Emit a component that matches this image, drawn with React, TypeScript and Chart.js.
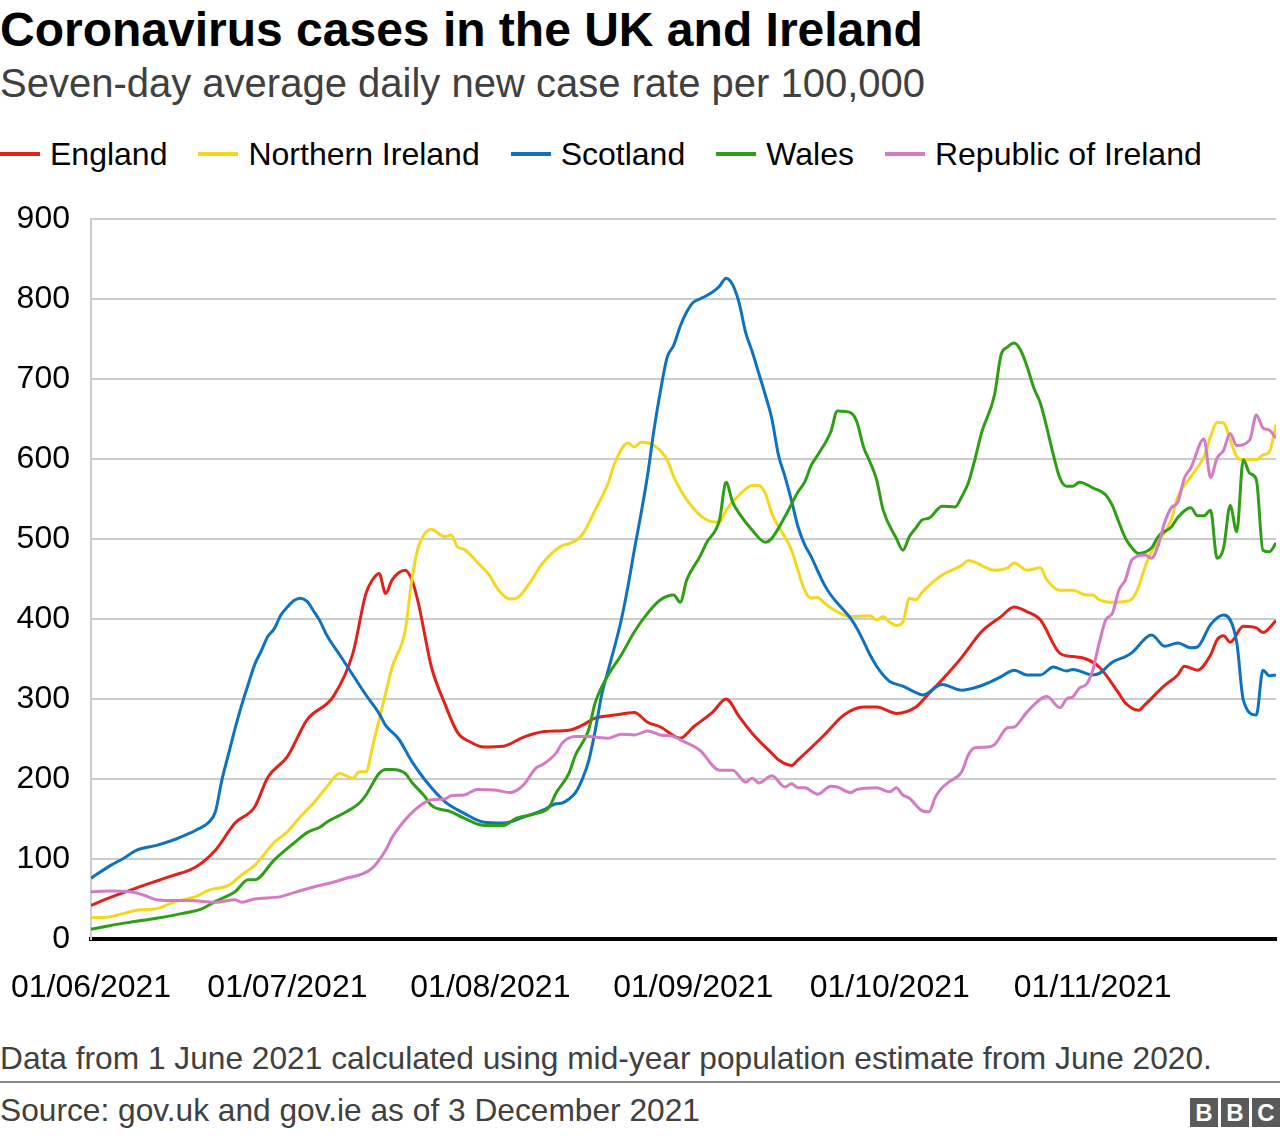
import React, { useEffect, useRef } from "react";
import { Chart, registerables } from "chart.js";

Chart.register(...registerables);

// x values are days since 1 June 2021
const tickDays = [0, 30, 61, 92, 122, 153];
const tickLabels = ["01/06/2021", "01/07/2021", "01/08/2021", "01/09/2021", "01/10/2021", "01/11/2021"];
const yMax = 900;
const yStep = 100;
const lastDay = 181;

const seriesNames = ["England", "Northern Ireland", "Scotland", "Wales", "Republic of Ireland"];
const seriesColors = ["#E3211B", "#F4D81E", "#0F72C1", "#2E9F15", "#D37BC3"];

const england: [number, number][] = [
  [0,42],[2,49],[7,64],[12,78],[16,90],[19,111],[22,145],[25,165],[27,202],[30,228],
  [33,274],[37,303],[40,357],[42,432],[43,449],[44,457],[45,432],[46,449],[48,461],[49,449],
  [50,420],[52,340],[54,295],[56,258],[58,246],[60,240],[63,241],[66,252],[69,259],[73,261],
  [75,267],[77,276],[80,280],[83,283],[85,271],[87,265],[90,251],[92,265],[95,284],[97,300],
  [99,278],[101,257],[104,232],[105,224],[107,217],[108,224],[112,255],[115,280],[118,290],[120,290],
  [123,282],[126,290],[128,307],[130,324],[133,352],[135,374],[136,384],[139,403],[141,415],[143,409],
  [145,399],[148,357],[150,353],[152,350],[154,340],[157,307],[158,295],[160,286],[161,293],[164,317],
  [166,330],[167,341],[169,336],[171,355],[172,374],[173,379],[174,371],[176,391],[178,389],[179,383],
  [181,398],
];

const northernIreland: [number, number][] = [
  [0,27],[2,27],[7,36],[10,38],[13,47],[16,53],[18,61],[21,67],[23,80],[25,92],
  [28,121],[30,134],[32,153],[34,170],[36,190],[38,207],[40,201],[41,209],[42,209],[43,240],
  [44,274],[45,307],[46,340],[48,386],[49,449],[50,490],[51,507],[52,512],[54,503],[55,505],
  [56,490],[57,487],[59,471],[61,453],[62,439],[64,425],[65,426],[67,445],[69,470],[72,492],
  [73,494],[75,505],[77,536],[79,570],[80,595],[82,620],[83,615],[84,621],[86,617],[88,599],
  [89,578],[91,549],[94,524],[96,521],[97,536],[99,555],[101,567],[102,567],[103,557],[104,532],
  [107,486],[109,436],[110,426],[111,427],[112,420],[114,409],[116,403],[119,404],[120,399],[121,403],
  [122,396],[123,392],[124,396],[125,426],[126,424],[127,434],[129,449],[130,455],[133,467],[134,473],
  [135,471],[136,467],[138,461],[140,464],[141,470],[143,461],[145,464],[146,449],[148,436],[150,436],
  [152,430],[153,430],[154,424],[156,421],[158,422],[159,425],[160,440],[161,465],[162,484],[163,496],
  [165,524],[166,553],[168,578],[170,603],[171,628],[172,646],[173,645],[174,624],[175,603],[176,599],
  [178,599],[179,605],[180,609],[181,643],
];

const scotland: [number, number][] = [
  [0,76],[3,92],[5,101],[7,111],[10,117],[13,125],[15,132],[16,136],[18,146],[19,159],
  [20,199],[21,231],[22,263],[23,292],[24,318],[25,343],[26,360],[27,378],[28,388],[29,405],
  [30,415],[31,423],[32,426],[33,422],[34,410],[35,397],[36,380],[38,355],[40,330],[42,305],
  [44,282],[45,267],[47,250],[49,222],[51,199],[54,172],[57,157],[60,146],[63,145],[66,152],
  [69,161],[71,169],[72,170],[73,175],[74,183],[75,199],[76,222],[77,260],[78,305],[79,336],
  [80,366],[81,399],[82,440],[83,487],[84,531],[85,579],[86,637],[87,686],[88,727],[89,742],
  [90,766],[91,784],[92,796],[93,800],[94,804],[95,809],[96,816],[97,826],[98,818],[99,795],
  [100,758],[101,734],[102,707],[103,680],[104,650],[105,605],[106,578],[107,548],[108,515],[109,493],
  [110,478],[111,460],[112,443],[113,430],[114,420],[116,401],[117,388],[118,372],[119,355],[120,341],
  [121,330],[122,322],[124,316],[126,308],[127,305],[130,318],[133,311],[135,314],[137,320],[139,328],
  [141,336],[143,330],[145,330],[147,340],[149,335],[150,337],[153,330],[154,332],[156,346],[158,353],
  [159,358],[162,380],[164,366],[166,370],[168,364],[169,365],[171,393],[173,405],[175,371],[176,299],
  [178,280],[179,336],[180,329],[181,330],
];

const wales: [number, number][] = [
  [0,12],[3,17],[6,21],[10,26],[14,32],[17,38],[19,47],[22,59],[24,74],[25,74],
  [28,99],[31,120],[33,133],[35,140],[36,146],[39,159],[41,170],[42,180],[44,207],[45,212],
  [46,212],[48,207],[49,196],[51,178],[52,167],[55,159],[57,151],[60,142],[63,142],[65,151],
  [68,157],[70,165],[71,182],[73,207],[74,230],[76,261],[77,295],[79,330],[81,355],[83,384],
  [85,407],[87,424],[89,430],[90,421],[91,449],[93,478],[94,495],[96,524],[97,571],[98,546],
  [99,532],[101,511],[103,496],[104,501],[106,528],[108,559],[109,571],[110,592],[111,605],[113,634],
  [114,660],[116,658],[117,646],[118,615],[119,596],[120,574],[121,536],[123,501],[124,486],[125,503],
  [126,514],[127,524],[128,526],[130,541],[132,540],[133,553],[134,570],[135,599],[136,632],[138,680],
  [139,730],[140,740],[141,745],[142,736],[143,715],[144,689],[145,670],[146,639],[147,605],[148,576],
  [149,566],[150,566],[151,571],[153,564],[155,555],[156,542],[157,521],[158,501],[159,489],[160,482],
  [162,489],[163,503],[165,515],[166,527],[168,539],[169,529],[170,529],[171,536],[172,476],[173,489],
  [174,542],[175,509],[176,599],[177,582],[178,574],[179,486],[180,484],[181,495],
];

const republicOfIreland: [number, number][] = [
  [0,59],[3,60],[6,59],[8,55],[10,49],[12,48],[15,48],[19,46],[22,49],[23,46],
  [25,50],[29,53],[31,58],[34,65],[37,71],[39,76],[41,80],[43,89],[45,111],[46,127],
  [48,149],[50,165],[52,174],[54,175],[55,179],[57,180],[59,187],[62,186],[64,183],[66,192],
  [68,214],[69,218],[71,232],[72,245],[74,253],[76,253],[79,251],[81,256],[83,255],[85,260],
  [87,255],[89,253],[90,249],[93,236],[96,211],[98,211],[100,196],[101,201],[102,195],[104,204],
  [106,190],[107,194],[108,189],[109,189],[111,181],[113,191],[114,190],[116,183],[117,187],[120,189],
  [122,184],[123,189],[124,180],[125,176],[127,160],[128,159],[129,178],[130,189],[131,196],[133,209],
  [134,230],[135,239],[137,240],[138,243],[140,264],[141,265],[143,284],[146,303],[148,289],[149,300],
  [150,303],[151,314],[152,318],[153,336],[154,370],[155,399],[156,407],[157,436],[158,449],[159,474],
  [161,480],[162,476],[163,492],[164,521],[165,539],[166,546],[167,576],[168,589],[170,625],[171,577],
  [172,601],[173,611],[174,632],[175,617],[177,624],[178,655],[179,639],[180,636],[181,626],
];

const seriesData = [england, northernIreland, scotland, wales, republicOfIreland];

const FONT = '"Liberation Sans", Arial, Helvetica, sans-serif';

export default function App() {
  const canvasRef = useRef<HTMLCanvasElement | null>(null);

  useEffect(() => {
    const canvas = canvasRef.current;
    if (!canvas) return;
    const chart = new Chart(canvas, {
      type: "line",
      data: {
        datasets: seriesNames.map((name, i) => ({
          label: name,
          data: seriesData[i].map(([x, y]) => ({ x, y })),
          borderColor: seriesColors[i],
          backgroundColor: seriesColors[i],
          borderWidth: 3,
          pointRadius: 0,
          pointHoverRadius: 0,
          fill: false,
          cubicInterpolationMode: "monotone" as const,
          order: seriesNames.length - i,
        })),
      },
      options: {
        responsive: false,
        animation: false,
        events: [],
        layout: { padding: { top: 29, right: 4, bottom: 0, left: 0 } },
        plugins: { legend: { display: false }, tooltip: { enabled: false } },
        scales: {
          x: {
            type: "linear",
            min: 0,
            max: lastDay,
            afterBuildTicks: (scale: any) => {
              scale.ticks = tickDays.map((v) => ({ value: v }));
            },
            afterFit: (scale: any) => {
              scale.height = 81;
              scale.paddingLeft = 0;
              scale.paddingRight = 0;
            },
            grid: { display: false, drawTicks: false },
            border: { display: true, color: "#000000", width: 4 },
            ticks: {
              autoSkip: false,
              maxRotation: 0,
              minRotation: 0,
              padding: 30,
              color: "#000000",
              font: { family: FONT, size: 32 },
              callback: (value: any) => {
                const idx = tickDays.indexOf(Number(value));
                return idx >= 0 ? tickLabels[idx] : "";
              },
            },
          },
          y: {
            min: 0,
            max: yMax,
            afterFit: (scale: any) => {
              scale.width = 91;
              scale.paddingTop = 0;
              scale.paddingBottom = 0;
            },
            grid: {
              drawTicks: false,
              lineWidth: 2,
              color: (ctx: any) => (ctx.tick && ctx.tick.value === 0 ? "rgba(0,0,0,0)" : "#cccccc"),
            },
            border: { display: true, color: "#cccccc", width: 2 },
            ticks: {
              stepSize: yStep,
              padding: 21,
              color: "#000000",
              font: { family: FONT, size: 32 },
            },
          },
        },
      },
    });
    return () => chart.destroy();
  }, []);

  return (
    <div
      style={{
        position: "absolute",
        left: 0,
        top: 0,
        width: 1280,
        height: 1138,
        background: "#ffffff",
        fontFamily: FONT,
        overflow: "hidden",
      }}
    >
      <div
        style={{
          position: "absolute",
          left: 0,
          top: 6,
          fontSize: 48,
          lineHeight: "48px",
          fontWeight: 700,
          color: "#000",
          whiteSpace: "nowrap",
        }}
      >
        Coronavirus cases in the UK and Ireland
      </div>
      <div
        style={{
          position: "absolute",
          left: 0,
          top: 63,
          fontSize: 40,
          lineHeight: "40px",
          color: "#404040",
          whiteSpace: "nowrap",
        }}
      >
        Seven-day average daily new case rate per 100,000
      </div>
      <div
        style={{
          position: "absolute",
          left: 0,
          top: 138,
          display: "flex",
          alignItems: "center",
          whiteSpace: "nowrap",
        }}
      >
        {seriesNames.map((name, i) => (
          <div key={name} style={{ display: "flex", alignItems: "center", marginRight: 31 }}>
            <div style={{ width: 40, height: 4, background: seriesColors[i], marginRight: 10 }} />
            <span style={{ fontSize: 32, lineHeight: "32px", color: "#000" }}>{name}</span>
          </div>
        ))}
      </div>
      <canvas
        ref={canvasRef}
        width={1280}
        height={830}
        style={{ position: "absolute", left: 0, top: 190, width: 1280, height: 830 }}
      />
      <div
        style={{
          position: "absolute",
          left: 0,
          top: 1042,
          fontSize: 31.7,
          lineHeight: "32px",
          color: "#404040",
          whiteSpace: "nowrap",
        }}
      >
        Data from 1 June 2021 calculated using mid-year population estimate from June 2020.
      </div>
      <div style={{ position: "absolute", left: 0, top: 1081, width: 1280, height: 2, background: "#8a8a8a" }} />
      <div
        style={{
          position: "absolute",
          left: 0,
          top: 1094,
          fontSize: 31.7,
          lineHeight: "32px",
          color: "#404040",
          whiteSpace: "nowrap",
        }}
      >
        Source: gov.uk and gov.ie as of 3 December 2021
      </div>
      <div style={{ position: "absolute", left: 1190, top: 1098, display: "flex" }}>
        {["B", "B", "C"].map((c, i) => (
          <div
            key={i}
            style={{
              width: 28,
              height: 29,
              marginLeft: i === 0 ? 0 : 3,
              background: "#5a5a5a",
              color: "#fff",
              fontWeight: 700,
              fontSize: 24,
              lineHeight: "29px",
              textAlign: "center",
            }}
          >
            {c}
          </div>
        ))}
      </div>
    </div>
  );
}
